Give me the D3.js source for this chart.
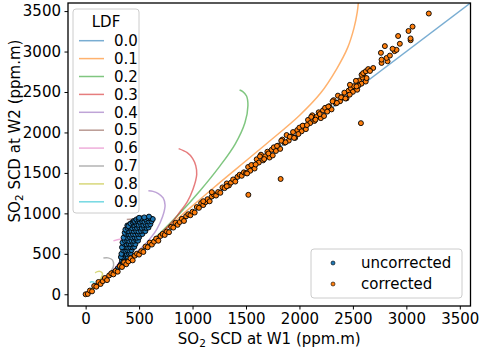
<!DOCTYPE html>
<html>
<head>
<meta charset="utf-8">
<script src="https://cdn.jsdelivr.net/npm/d3@7/dist/d3.min.js"></script>
<style>
body { margin: 0; background: #fff; }
svg { font-family: "DejaVu Sans", sans-serif; }
</style>
</head>
<body>
<div id="chart"></div>
<script>
// ---------------------------------------------------------------
// données
// ---------------------------------------------------------------
var xTicks = [0, 500, 1000, 1500, 2000, 2500, 3000, 3500];
var yTicks = [0, 500, 1000, 1500, 2000, 2500, 3000, 3500];

var ldfLabels = ["0.0", "0.1", "0.2", "0.3", "0.4", "0.5", "0.6", "0.7", "0.8", "0.9"];
var ldfColors = ["#1f77b4", "#ff7f0e", "#2ca02c", "#d62728", "#9467bd",
                 "#8c564b", "#e377c2", "#7f7f7f", "#bcbd22", "#17becf"];

// courbes de dilution (x = SCD W1, y = SCD W2)
var ldf00 = [[0, 0], [3600, 3600]];
var ldf01 = [[0, 0], [300, 310], [600, 640], [900, 980], [1200, 1320], [1537, 1690], [1700, 1870],
             [2000, 2210], [2200, 2490], [2350, 2790], [2450, 3045], [2510, 3290], [2540, 3480], [2552, 3620]];
var ldf02 = [[0, 0], [300, 310], [600, 635], [880, 1000], [1070, 1280], [1257, 1587], [1400, 1860],
             [1490, 2120], [1518, 2330], [1505, 2450], [1470, 2505], [1440, 2525]];
var ldf03 = [[0, 0], [300, 310], [600, 625], [806, 889], [883, 1020], [949, 1138], [1005, 1300],
             [1039, 1480], [1030, 1590], [1000, 1680], [950, 1750], [870, 1800]];
var ldf04 = [[0, 0], [300, 320], [500, 545], [572, 640], [665, 802], [720, 960], [743, 1100],
             [725, 1190], [680, 1245], [630, 1272], [587, 1280]];
var ldf05 = [[0, 0], [250, 270], [400, 500], [480, 680], [525, 820], [530, 890], [500, 920],
             [450, 930], [385, 925]];
var ldf06 = [[0, 0], [200, 215], [330, 420], [390, 560], [400, 640], [370, 675], [320, 680], [260, 660]];
var ldf07 = [[0, 0], [150, 170], [240, 290], [262, 360], [250, 425], [210, 450], [166, 449]];
var ldf08 = [[0, 0], [90, 100], [140, 190], [158, 255], [140, 280], [110, 280], [89, 265]];
var ldf09 = [[0, 0], [50, 60], [80, 120], [75, 150], [55, 155], [40, 145]];
var ldfCurves = [ldf00, ldf01, ldf02, ldf03, ldf04, ldf05, ldf06, ldf07, ldf08, ldf09];

var uncorrected = [
  [100, 100], [180, 185], [250, 262], [300, 320], [320, 350], [330, 368],
  [335, 380], [350, 385],
  [340, 420], [358, 425], [372, 418],
  [345, 462], [362, 458], [380, 465], [395, 460], [330, 460],
  [350, 500], [368, 505], [385, 498], [405, 502], [420, 508], [335, 500],
  [352, 542], [372, 538], [390, 545], [410, 540], [430, 546],
  [358, 580], [378, 585], [398, 578], [418, 583], [440, 580], [455, 586], [340, 580],
  [362, 622], [382, 618], [402, 625], [422, 620], [445, 626], [465, 620], [345, 640],
  [368, 660], [388, 665], [408, 658], [430, 663], [452, 660], [475, 666], [490, 662],
  [372, 702], [392, 698], [414, 705], [436, 700], [458, 704], [480, 698], [500, 703], [355, 700],
  [378, 740], [398, 745], [420, 738], [442, 743], [465, 740], [488, 746], [512, 740], [530, 744], [365, 760],
  [385, 782], [405, 778], [428, 785], [450, 780], [472, 784], [495, 778], [518, 782], [540, 786], [558, 780],
  [372, 800], [392, 820], [412, 825], [435, 818], [458, 823], [480, 820], [502, 826], [525, 820], [548, 824],
  [570, 818], [588, 825],
  [390, 850], [410, 858], [430, 862], [452, 856], [474, 864], [496, 858], [518, 863], [540, 857], [562, 862],
  [584, 858], [605, 865], [400, 843], [420, 875], [440, 890],
  [450, 905], [462, 898], [484, 903], [506, 896], [528, 902], [550, 897], [572, 904], [594, 899], [616, 903],
  [475, 925], [495, 930], [520, 936], [560, 932], [585, 940], [610, 936], [628, 930],
  [592, 960], [548, 950], [500, 945]
];

var corrected = [
  [0, 0], [20, 4], [40, 46], [60, 36], [80, 103], [100, 94], [120, 152], [140, 127], [160, 162],
  [180, 201], [200, 175], [220, 233], [240, 259], [260, 246], [280, 289], [300, 279], [320, 347],
  [340, 337], [360, 395], [380, 371], [400, 406], [420, 444], [440, 419], [460, 477], [480, 502],
  [500, 490], [520, 533], [540, 523], [560, 590], [580, 581], [600, 639], [620, 614], [640, 650],
  [660, 688], [680, 662], [700, 720], [720, 746], [740, 733], [760, 776], [780, 767], [800, 834],
  [820, 824], [840, 883], [860, 858], [880, 893], [900, 932], [920, 906], [940, 964], [960, 989],
  [980, 977], [1000, 1020], [1020, 1010], [1040, 1078], [1060, 1068], [1080, 1126], [1100, 1102],
  [1120, 1137], [1140, 1175], [1160, 1149], [1180, 1208], [1200, 1233], [1220, 1220], [1240, 1264],
  [1260, 1254], [1280, 1321], [1300, 1312], [1320, 1370], [1340, 1345], [1360, 1380], [1380, 1419],
  [1400, 1393], [1420, 1451], [1440, 1477], [1460, 1464], [1480, 1507], [1500, 1498],
  [1100, 1150], [1180, 1262], [1320, 1335],
  [1520, 1573], [1540, 1527], [1560, 1593], [1580, 1554], [1600, 1668], [1620, 1628], [1640, 1725],
  [1660, 1655], [1680, 1705], [1700, 1762], [1720, 1690], [1740, 1786], [1760, 1816], [1780, 1771],
  [1800, 1837], [1820, 1797], [1840, 1912], [1860, 1872], [1880, 1968], [1900, 1899], [1920, 1949],
  [1940, 2005], [1960, 1933], [1980, 2030], [2000, 2060], [2020, 2014], [2040, 2081], [2060, 2041],
  [2080, 2155], [2100, 2116], [2120, 2212], [2140, 2142], [2160, 2192], [2180, 2249], [2200, 2177],
  [2220, 2273], [2240, 2304], [2260, 2258], [2280, 2324], [2300, 2285], [2320, 2399], [2340, 2359],
  [2360, 2455], [2380, 2386], [2400, 2436], [2420, 2492], [2440, 2421], [2460, 2517], [2480, 2547],
  [2500, 2502], [2520, 2568], [2540, 2528], [2560, 2642], [2580, 2603], [2600, 2699], [2620, 2629],
  [1510, 1493], [1550, 1597], [1590, 1604], [1630, 1704], [1670, 1671], [1710, 1740], [1750, 1716],
  [1790, 1833], [1830, 1897], [1870, 1878], [1910, 1947], [1950, 1933], [1990, 1980], [2030, 2084],
  [2070, 2091], [2110, 2192], [2150, 2158], [2190, 2227], [2230, 2203], [2270, 2320], [2310, 2385],
  [2350, 2365], [2390, 2434], [2430, 2420], [2470, 2467], [2510, 2572], [2550, 2578], [2590, 2679],
  [2581, 2713], [2596, 2734], [2621, 2756], [2643, 2783], [2690, 2797], [2628, 2672], [2528, 2638],
  [2534, 2569], [2472, 2589], [2660, 2760],
  [2768, 2859], [2824, 2880], [2768, 2900], [2815, 2921], [2762, 2984], [2846, 2950], [2890, 3005],
  [2908, 3021], [2871, 3034], [2799, 3067], [2939, 3096], [3040, 3140], [3039, 3162], [2923, 3192],
  [3020, 3254], [3058, 3308], [3210, 3470],
  [1522, 1229], [1824, 1425], [2575, 2115]
];

var seriesLabels = ["uncorrected", "corrected"];
var seriesColors = ["#1f77b4", "#ff7f0e"];

// ---------------------------------------------------------------
// dimensions
// ---------------------------------------------------------------
var W = 479, H = 351;
var pLeft = 68, pRight = 470.5, pTop = 3, pBottom = 306;

var svg = d3.select("#chart").append("svg")
    .attr("width", W)
    .attr("height", H);

var x = d3.scaleLinear().domain([-165, 3600]).range([pLeft, pRight]);
var y = d3.scaleLinear().domain([-145, 3600]).range([pBottom, pTop]);

svg.append("clipPath").attr("id", "clip")
    .append("rect")
    .attr("x", pLeft).attr("y", pTop)
    .attr("width", pRight - pLeft).attr("height", pBottom - pTop);

var plot = svg.append("g").attr("clip-path", "url(#clip)");

// courbes LDF
var line = d3.line()
    .x(function(d) { return x(d[0]); })
    .y(function(d) { return y(d[1]); })
    .curve(d3.curveCatmullRom.alpha(0.5));

plot.selectAll(".ldf")
    .data(ldfCurves)
    .enter().append("path")
    .attr("class", "ldf")
    .attr("d", line)
    .attr("fill", "none")
    .attr("stroke", function(d, i) { return ldfColors[i]; })
    .attr("stroke-opacity", 0.6)
    .attr("stroke-width", 1.5);

// points
function dots(data, color) {
    plot.append("g").selectAll("circle")
        .data(data)
        .enter().append("circle")
        .attr("cx", function(d) { return x(d[0]); })
        .attr("cy", function(d) { return y(d[1]); })
        .attr("r", 2.5)
        .attr("fill", color)
        .attr("stroke", "#000")
        .attr("stroke-width", 0.9);
}
dots(uncorrected, seriesColors[0]);
dots(corrected, seriesColors[1]);

// axes
var xAxis = svg.append("g")
    .attr("transform", "translate(0," + pBottom + ")")
    .call(d3.axisBottom(x).tickValues(xTicks).tickFormat(d3.format("d"))
        .tickSize(3.5).tickPadding(3.5).tickSizeOuter(0));
var yAxis = svg.append("g")
    .attr("transform", "translate(" + pLeft + ",0)")
    .call(d3.axisLeft(y).tickValues(yTicks).tickFormat(d3.format("d"))
        .tickSize(3.5).tickPadding(3.5).tickSizeOuter(0));

[xAxis, yAxis].forEach(function(a) {
    a.select(".domain").remove();
    a.selectAll("text").attr("font-size", 15).attr("font-family", "DejaVu Sans").attr("fill", "#000");
    a.selectAll("line").attr("stroke", "#000");
});

// cadre
svg.append("rect")
    .attr("x", pLeft).attr("y", pTop)
    .attr("width", pRight - pLeft).attr("height", pBottom - pTop)
    .attr("fill", "none")
    .attr("stroke", "#000")
    .attr("stroke-width", 1.3);

// titres des axes
var xl = svg.append("text")
    .attr("x", (pLeft + pRight) / 2)
    .attr("y", 344)
    .attr("text-anchor", "middle")
    .attr("font-size", 15);
xl.append("tspan").text("SO");
xl.append("tspan").attr("font-size", 10.5).attr("dy", 3).text("2");
xl.append("tspan").attr("dy", -3).text(" SCD at W1 (ppm.m)");

var yl = svg.append("text")
    .attr("transform", "translate(20,131) rotate(-90)")
    .attr("text-anchor", "middle")
    .attr("font-size", 15);
yl.append("tspan").text("SO");
yl.append("tspan").attr("font-size", 10.5).attr("dy", 3).text("2");
yl.append("tspan").attr("dy", -3).text(" SCD at W2 (ppm.m)");

// ---------------------------------------------------------------
// légende LDF
// ---------------------------------------------------------------
var leg = svg.append("g");
leg.append("rect")
    .attr("x", 73).attr("y", 9)
    .attr("width", 66).attr("height", 204)
    .attr("rx", 3)
    .attr("fill", "#fff").attr("fill-opacity", 0.8)
    .attr("stroke", "#ccc");
leg.append("text")
    .attr("x", 106).attr("y", 27)
    .attr("text-anchor", "middle")
    .attr("font-size", 15)
    .text("LDF");
var items = leg.selectAll(".item")
    .data(ldfLabels)
    .enter().append("g")
    .attr("class", "item")
    .attr("transform", function(d, i) { return "translate(0," + (40.7 + i * 17.9) + ")"; });
items.append("line")
    .attr("x1", 79).attr("x2", 104)
    .attr("stroke", function(d, i) { return ldfColors[i]; })
    .attr("stroke-opacity", 0.6)
    .attr("stroke-width", 1.5);
items.append("text")
    .attr("x", 114).attr("y", 0)
    .attr("dy", "0.35em")
    .attr("font-size", 15)
    .text(function(d) { return d; });

// légende des séries
var leg2 = svg.append("g");
leg2.append("rect")
    .attr("x", 311).attr("y", 249)
    .attr("width", 151).attr("height", 49)
    .attr("rx", 3)
    .attr("fill", "#fff").attr("fill-opacity", 0.8)
    .attr("stroke", "#ccc");
var items2 = leg2.selectAll(".item2")
    .data(seriesLabels)
    .enter().append("g")
    .attr("class", "item2")
    .attr("transform", function(d, i) { return "translate(0," + (263 + i * 21) + ")"; });
items2.append("circle")
    .attr("cx", 333).attr("r", 2)
    .attr("fill", function(d, i) { return seriesColors[i]; })
    .attr("stroke", "#000").attr("stroke-width", 0.6);
items2.append("text")
    .attr("x", 361).attr("dy", "0.35em")
    .attr("font-size", 15)
    .text(function(d) { return d; });
</script>
</body>
</html>
